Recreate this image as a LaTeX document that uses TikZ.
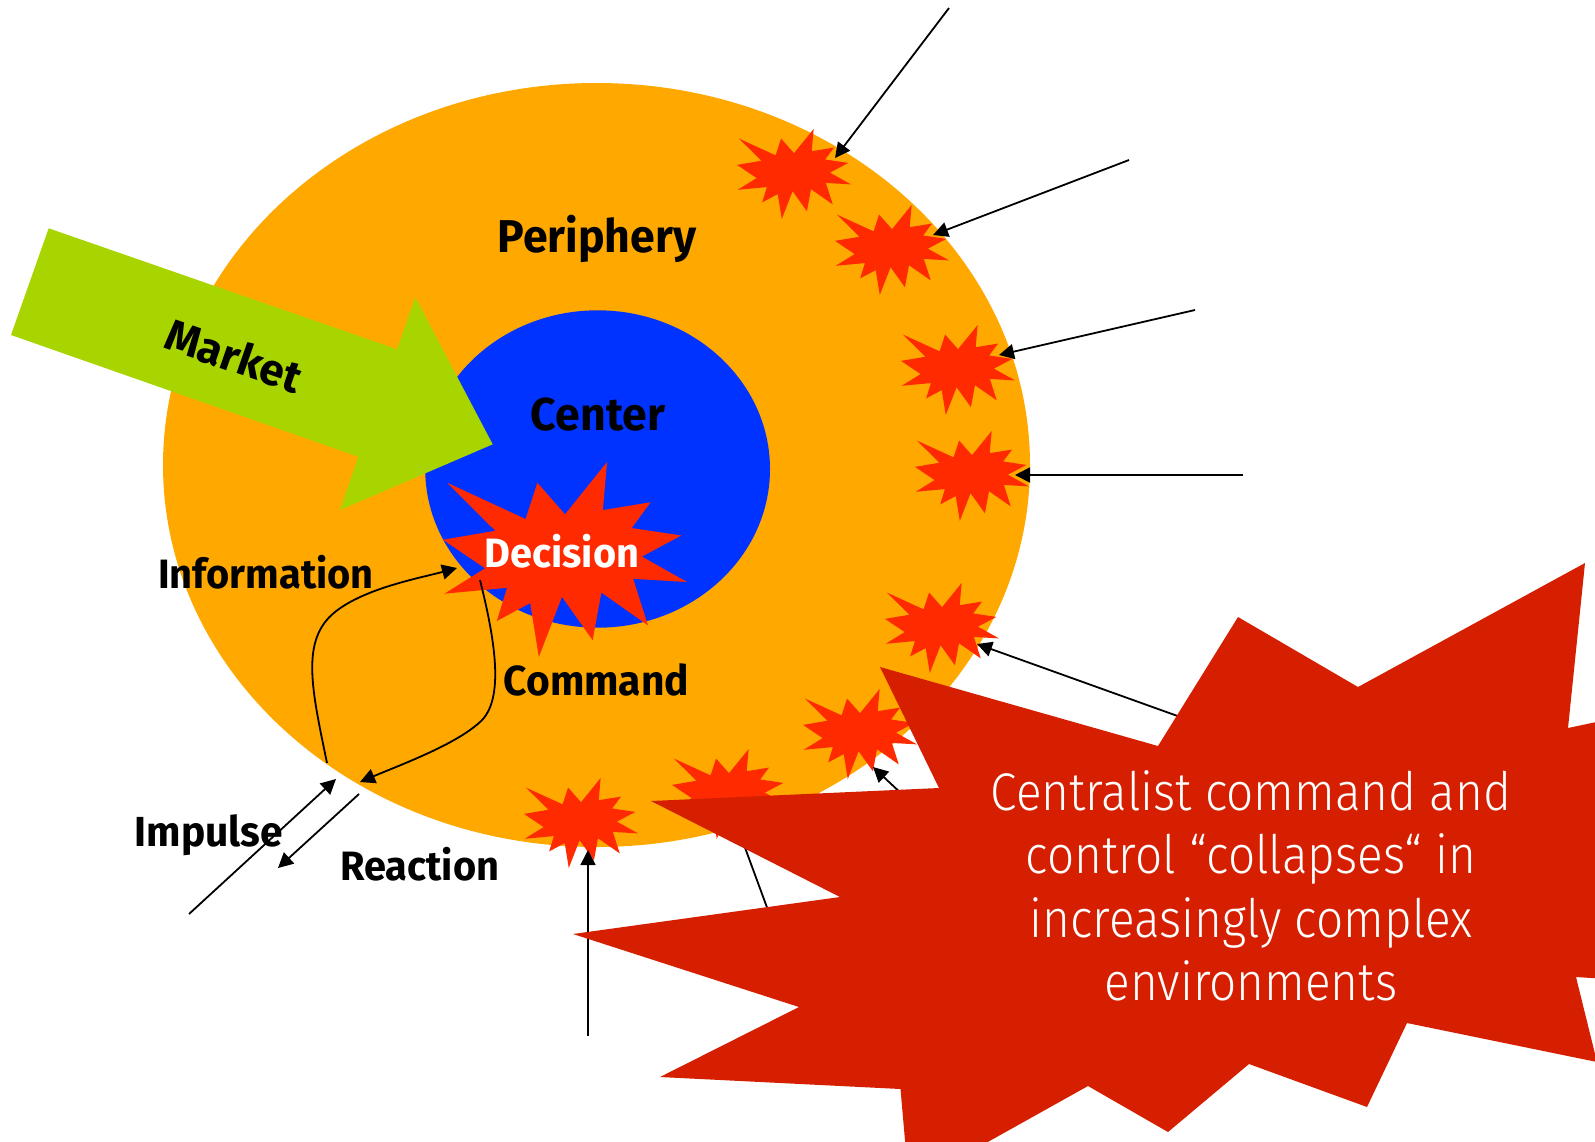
\documentclass[tikz,border=0pt]{standalone}
\usepackage{fontspec}
\usetikzlibrary{arrows.meta}
\newfontfamily\lblfont{Fira Sans}[FakeStretch=0.97]
\newfontfamily\lblplain{Fira Sans}
\newfontfamily\capfont{Fira Sans Light}[FakeStretch=0.9]
\definecolor{periorange}{RGB}{255,168,0}
\definecolor{coreblue}{RGB}{0,51,255}
\definecolor{marketgreen}{RGB}{168,212,0}
\definecolor{burstred}{RGB}{255,42,0}
\definecolor{collapsered}{RGB}{214,31,0}

\tikzset{
  % twelve-point explosion in a unit box, y pointing down
  burst/.pic={
    \fill[burstred] (0.5,0.2685) -- (0.6723,0) -- (0.6553,0.2465) -- (0.8509,0.2063)
      -- (0.7733,0.3387) -- (0.9767,0.3767) -- (0.8151,0.4850) -- (1,0.6153)
      -- (0.7795,0.5992) -- (0.8400,0.8377) -- (0.6491,0.6693) -- (0.6133,0.9138)
      -- (0.4876,0.6914) -- (0.3928,1) -- (0.3572,0.7235) -- (0.2205,0.8156)
      -- (0.2624,0.6452) -- (0.00625,0.6753) -- (0.1723,0.5451) -- (0,0.3988)
      -- (0.2142,0.3526) -- (0.0171,0.1063) -- (0.3385,0.2926) -- (0.3867,0.1063)
      -- cycle;
  },
  lbl/.style={font={\lblfont\bfseries\fontsize{#1}{#1}\selectfont}, inner sep=0pt, anchor=base},
  capline/.style={font={\capfont\fontsize{53}{63.5}\selectfont}, text=white, inner sep=0pt, anchor=base},
  link/.style={line width=1.8pt, -{Triangle[length=15pt,width=15pt]}},
}

\begin{document}
\begin{tikzpicture}[x=1pt,y=-1pt]
\path[use as bounding box] (0,0) rectangle (1595,1141);
\clip (0,0) rectangle (1595,1141);
\fill[white] (0,0) rectangle (1595,1141);

% organisation: periphery and centre
\fill[periorange] (596.5,465) ellipse [x radius=433.5, y radius=382];
\fill[coreblue] (597.6,469) ellipse [x radius=172.4, y radius=158.7];

% market arrow
\fill[marketgreen] (48.7,228.3) -- (397,349.3) -- (415.3,297.3) -- (492.7,444.3)
  -- (340,510) -- (358.3,456.7) -- (11,335) -- cycle;
\node[inner sep=0pt, anchor=base, rotate=-19.2, font={\lblplain\bfseries\fontsize{44}{44}\selectfont}]
  (market) at (229,371) {Market};

% decision burst
\pic[xscale=244, yscale=195] at (443,462) {burst};

% disturbances along the periphery
\foreach \bx/\by in {737/129, 835/205, 901/325, 915/431, 885/583, 803/689, 672/749, 524/778}
  \pic[xscale=114, yscale=90] at (\bx,\by) {burst};

% impacts from the environment
\coordinate (a1s) at (949,8);     \coordinate (a1e) at (835,158);
\coordinate (a2s) at (1129,160);  \coordinate (a2e) at (933,235);
\coordinate (a3s) at (1195,310);  \coordinate (a3e) at (999,355);
\coordinate (a4s) at (1243,475);  \coordinate (a4e) at (1015,475);
\coordinate (a5s) at (1250,742);  \coordinate (a5e) at (977,644);
\coordinate (a6s) at (935,825);   \coordinate (a6e) at (873,767);
\coordinate (a7s) at (790,970);   \coordinate (a7e) at (733,815);
\coordinate (a8s) at (588,1036);  \coordinate (a8e) at (588,850);
\foreach \i in {1,...,8}
  \draw[link] (a\i s) -- (a\i e);

% impulse / reaction loop
\coordinate (imps) at (189,914);  \coordinate (impe) at (336,779);
\coordinate (reas) at (359,794);  \coordinate (reae) at (278,868);
\coordinate (infs) at (327,763);  \coordinate (infe) at (457,568);
\coordinate (cmds) at (480,580);  \coordinate (cmde) at (360,782);
\draw[link] (imps) -- (impe);
\draw[link] (reas) -- (reae);
\draw[link] (infs) .. controls (312,690) and (300,640) .. (335,612)
  .. controls (365,588) and (420,578) .. (infe);
\draw[link] (cmds) .. controls (495,640) and (505,700) .. (480,722)
  .. controls (455,745) and (400,765) .. (cmde);

% labels
\node[lbl=46] (periphery) at (597,252.7) {Periphery};
\node[lbl=46] (center) at (598,430) {Center};
\node[lbl=41, text=white] (decision) at (562,567) {Decision};
\node[lbl=41] (information) at (266,588) {Information};
\node[lbl=42] (command) at (596.5,695) {Command};
\node[lbl=42] (impulse) at (209,846) {Impulse};
\node[lbl=41] (reaction) at (419.7,880) {Reaction};

% collapse burst
\fill[collapsered] (880,667) -- (1158,746) -- (1238,617) -- (1358,687) -- (1585,563)
  -- (1568,728) -- (1700,700) -- (1700,985) -- (1576,977) -- (1597,1062)
  -- (1407,1023) -- (1367,1107) -- (1249,1064) -- (1168,1132) -- (1088,1086)
  -- (909,1186) -- (900.5,1089) -- (660,1077) -- (799,1007) -- (573,934)
  -- (840,897) -- (651,801) -- (939,788) -- cycle;
\node[capline] (cap1) at (1251,810) {Centralist command and};
\node[capline] (cap2) at (1251,873.5) {control “collapses“ in};
\node[capline] (cap3) at (1251,937) {increasingly complex};
\node[capline] (cap4) at (1251,1000.5) {environments};
\end{tikzpicture}
\end{document}
